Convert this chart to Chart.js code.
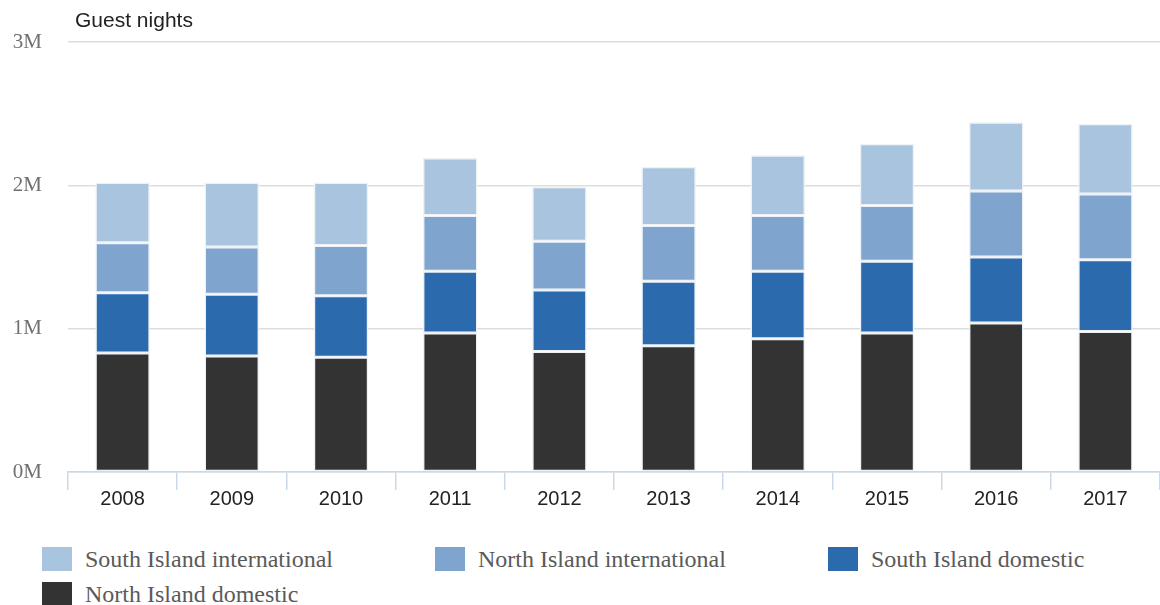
<!DOCTYPE html>
<html>
<head>
<meta charset="utf-8">
<script src="https://cdn.jsdelivr.net/npm/chart.js@4.4.0/dist/chart.umd.min.js"></script>
<style>
  body { margin: 0; background: #fff; }
  #wrap { position: relative; width: 1160px; height: 605px; }
  #chartBox { position: absolute; left: 0; top: 0; width: 1160px; height: 516px; }
  #legend { position: absolute; left: 42px; top: 546px; width: 1118px; display: grid;
    grid-template-columns: 393px 393px 332px; row-gap: 9px; font-family: "Liberation Serif", serif;
    font-size: 24px; color: #5a5a5a; }
  .item { display: flex; align-items: center; height: 26px; }
  .sw { width: 30px; height: 24px; margin-right: 13px; }
</style>
</head>
<body>
<div id="wrap">
  <div id="chartBox"><canvas id="c" width="1160" height="516"></canvas></div>
  <div id="legend"></div>
</div>
<script>
// data (millions of guest nights)
const years = ['2008', '2009', '2010', '2011', '2012', '2013', '2014', '2015', '2016', '2017'];
const northDomestic = [0.83, 0.81, 0.80, 0.97, 0.84, 0.88, 0.93, 0.97, 1.04, 0.98];
const southDomestic = [0.42, 0.43, 0.43, 0.43, 0.43, 0.45, 0.47, 0.50, 0.46, 0.50];
const northIntl = [0.35, 0.33, 0.35, 0.39, 0.34, 0.39, 0.39, 0.39, 0.46, 0.46];
const southIntl = [0.42, 0.45, 0.44, 0.40, 0.38, 0.41, 0.42, 0.43, 0.48, 0.49];
const yTicks = [0, 1, 2, 3];

const toNights = arr => arr.map(v => v * 1e6);

// bottom to top
const series = [
  { label: 'North Island domestic', data: toNights(northDomestic), color: '#333333' },
  { label: 'South Island domestic', data: toNights(southDomestic), color: '#2b6aad' },
  { label: 'North Island international', data: toNights(northIntl), color: '#7fa5cf' },
  { label: 'South Island international', data: toNights(southIntl), color: '#a9c4de' },
];

// header text drawn just above the plot area
const headerPlugin = {
  id: 'header',
  afterDraw(chart) {
    const ctx = chart.ctx;
    ctx.save();
    ctx.font = '21px "Liberation Sans", Arial, sans-serif';
    ctx.fillStyle = '#222';
    ctx.textBaseline = 'middle';
    ctx.fillText('Guest nights', chart.chartArea.left + 7, 21);
    ctx.restore();
  }
};

new Chart(document.getElementById('c'), {
  type: 'bar',
  data: {
    labels: years,
    datasets: series.map(s => ({
      label: s.label,
      data: s.data,
      backgroundColor: s.color,
      borderColor: '#eef2f7',
      borderWidth: 1.5,
      borderSkipped: false,
      categoryPercentage: 1,
      barPercentage: 0.5,
    })),
  },
  options: {
    responsive: false,
    animation: false,
    layout: { padding: { top: 42, right: 0, bottom: 8, left: 0 } },
    plugins: {
      legend: { display: false },
      tooltip: { enabled: false },
      title: { display: false },
    },
    scales: {
      x: {
        stacked: true,
        offset: true,
        grid: { display: true, drawOnChartArea: false, drawTicks: true, tickLength: 18, offset: true, color: '#c9d9ea', lineWidth: 1.5 },
        border: { display: true, color: '#c9d9ea', width: 1.5 },
        ticks: { color: '#222', padding: -3, maxRotation: 0, font: { family: '"Liberation Sans", Arial, sans-serif', size: 20 } },
      },
      y: {
        stacked: true,
        min: 0,
        max: 3e6,
        afterFit(scale) { scale.width = 68; },
        afterBuildTicks(scale) { scale.ticks = yTicks.map(v => ({ value: v * 1e6 })); },
        grid: { color: '#dddddd', lineWidth: 1.5, drawTicks: false },
        border: { display: false },
        ticks: {
          color: '#707070',
          padding: 26,
          font: { family: '"Liberation Serif", "Times New Roman", serif', size: 21 },
          callback: v => (v / 1e6) + 'M',
        },
      },
    },
  },
  plugins: [headerPlugin],
});

// legend, same order as the original
const legendOrder = [3, 2, 1, 0];
const legendEl = document.getElementById('legend');
legendOrder.forEach(i => {
  const s = series[i];
  const item = document.createElement('div');
  item.className = 'item';
  item.innerHTML = '<span class="sw" style="background:' + s.color + '"></span><span>' + s.label + '</span>';
  legendEl.appendChild(item);
});
</script>
</body>
</html>
